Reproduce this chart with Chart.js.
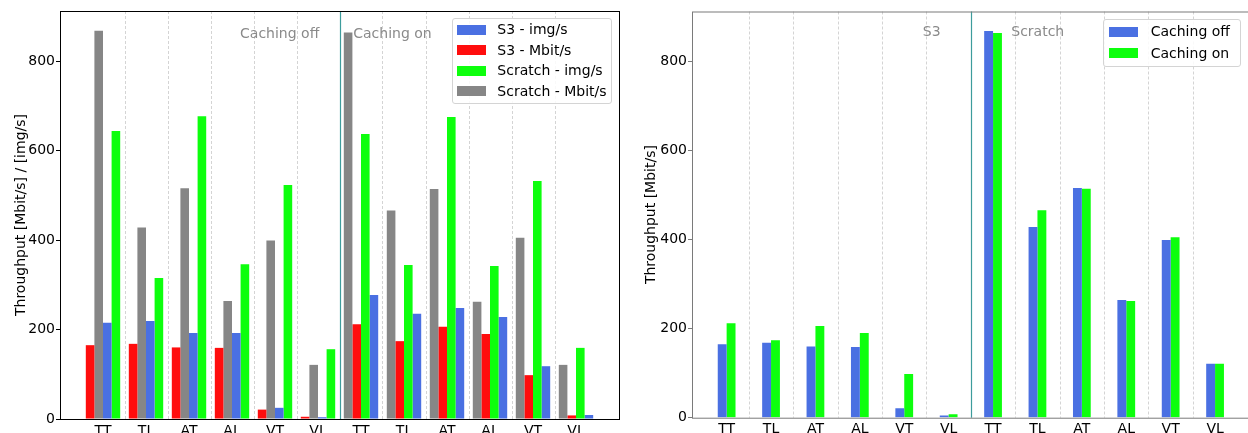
<!DOCTYPE html>
<html><head><meta charset="utf-8">
<script src="https://cdn.jsdelivr.net/npm/chart.js@4.4.1/dist/chart.umd.min.js"></script>
<style>
html,body{margin:0;padding:0;width:1248px;height:433px;overflow:hidden;background:#fff;font-family:"DejaVu Sans";}
canvas{position:absolute;top:0;}
#c1{left:0;}
#c2{left:640px;}
.legend{position:absolute;border:1px solid #d4d4d4;border-radius:3px;background:rgba(255,255,255,0.85);box-sizing:border-box;font:14px "DejaVu Sans";color:#000;}
.legend .sw{position:absolute;width:29px;height:10px;}
.legend .tx{position:absolute;line-height:17px;white-space:nowrap;}
</style></head><body>
<canvas id="c1" width="640" height="445"></canvas>
<canvas id="c2" width="620" height="445"></canvas>
<div id="leg1" class="legend"></div>
<div id="leg2" class="legend"></div>
<script>
// ---------- data ----------
const categories = ['TT', 'TL', 'AT', 'AL', 'VT', 'VL'];
const tickLabels = [...categories, ...categories];
const yTicks = [0, 200, 400, 600, 800];
const seriesNames = ['S3 - img/s', 'S3 - Mbit/s', 'Scratch - img/s', 'Scratch - Mbit/s'];
const rightSeriesNames = ['Caching off', 'Caching on'];
const regionLabelsLeft = ['Caching off', 'Caching on'];
const regionLabelsRight = ['S3', 'Scratch'];
const yTitleLeft = 'Throughput [Mbit/s] / [img/s]';
const yTitleRight = 'Throughput [Mbit/s]';

const s3ImgOff       = [215, 219, 192, 192, 25, 4];
const s3ImgOn        = [277, 235, 248, 228, 118, 9];
const s3MbitOff      = [165, 168, 160, 159, 21, 5];
const s3MbitOn       = [212, 174, 206, 190, 98, 8];
const scratchImgOff  = [644, 315, 677, 346, 523, 156];
const scratchImgOn   = [637, 344, 675, 342, 532, 159];
const scratchMbitOff = [868, 428, 516, 264, 399, 121];
const scratchMbitOn  = [864, 466, 514, 262, 405, 121];

// right chart: Mbit/s, S3 block then Scratch block
const cachingOff = [...s3MbitOff, ...scratchMbitOff];
const cachingOn  = [...s3MbitOn, ...scratchMbitOn];

// ---------- styles ----------
const C = { blue: '#4a70e2', red: '#ff0d0d', green: '#0dff0d', gray: '#868686' };
Chart.defaults.font.family = 'DejaVu Sans';
Chart.defaults.font.size = 14;
Chart.defaults.color = '#000';

function place(values, half) {
  return tickLabels.map((_, i) => ({ x: i, y: Math.floor(i / 6) === half ? values[i % 6] : null }));
}
function seq(values) { return values.map((v, i) => ({ x: i, y: v })); }

const decor = {
  id: 'decor',
  beforeDatasetsDraw(chart, args, o) {
    const { ctx, chartArea: a, scales: { x } } = chart;
    ctx.save();
    for (let i = 0; i < tickLabels.length - 1; i++) {
      const v = i + 0.5;
      const px = Math.round(x.getPixelForValue(v)) + 0.5;
      ctx.beginPath();
      if (i === 5) { ctx.setLineDash([]); ctx.strokeStyle = o.sepColor; ctx.lineWidth = 1.2; }
      else { ctx.setLineDash([3, 2]); ctx.strokeStyle = '#d4d4d4'; ctx.lineWidth = 1; }
      ctx.moveTo(px, a.top); ctx.lineTo(px, a.bottom); ctx.stroke();
    }
    ctx.restore();
  },
  afterDraw(chart, args, o) {
    const { ctx, chartArea: a, scales: { x, y } } = chart;
    ctx.save();
    ctx.font = '14px "DejaVu Sans"';
    ctx.fillStyle = '#8a8a8a';
    ctx.textBaseline = 'middle';
    o.notes.forEach(n => {
      ctx.textAlign = n.align;
      ctx.fillText(n.text, x.getPixelForValue(n.x), y.getPixelForValue(n.y));
    });
    ctx.strokeStyle = o.frameColor; ctx.lineWidth = o.frameWidth; ctx.setLineDash([]);
    ctx.strokeRect(a.left + 0.5, a.top + 0.5, a.right - a.left, a.bottom - a.top);
    ctx.restore();
  }
};

function makeOptions(p) {
  return {
    responsive: false, animation: false,
    layout: { padding: { left: 0, top: p.top, right: p.right, bottom: 0 } },
    plugins: { legend: { display: false }, tooltip: { enabled: false },
      decor: { notes: p.notes, frameColor: p.frame, frameWidth: 1, sepColor: '#3d9c9c' } },
    datasets: { bar: { categoryPercentage: p.catPct, barPercentage: 1, borderWidth: 0, skipNull: true } },
    scales: {
      x: {
        type: 'linear', min: p.xmin, max: p.xmax, offset: false,
        afterBuildTicks: s => { s.ticks = tickLabels.map((_, i) => ({ value: i })); },
        afterFit: s => { s.height = p.xh; },
        ticks: { autoSkip: false, maxRotation: 0, padding: 3.5, color: '#000',
          callback: v => tickLabels[v] !== undefined ? tickLabels[v] : '' },
        grid: { display: false, drawTicks: false, offset: false },
        border: { display: false }
      },
      y: {
        min: 0, max: 912,
        afterBuildTicks: s => { s.ticks = yTicks.map(v => ({ value: v })); },
        afterFit: s => { s.width = p.yw; },
        ticks: { padding: 1, color: '#000' },
        grid: { drawOnChartArea: false, drawTicks: true, tickLength: 4, color: p.frame },
        border: { display: false },
        title: { display: true, text: p.title, color: '#000', padding: { top: p.titlePad, bottom: 0 },
          font: { size: 14 } }
      }
    }
  };
}

new Chart(document.getElementById('c1'), {
  type: 'bar',
  data: { datasets: [
    { label: seriesNames[1], data: place(s3MbitOff, 0), backgroundColor: C.red },
    { label: seriesNames[3], data: place(scratchMbitOff, 0), backgroundColor: C.gray },
    { label: seriesNames[0], data: place(s3ImgOff, 0), backgroundColor: C.blue },
    { label: seriesNames[2], data: place(scratchImgOff, 0), backgroundColor: C.green },
    { label: seriesNames[3], data: place(scratchMbitOn, 1), backgroundColor: C.gray },
    { label: seriesNames[1], data: place(s3MbitOn, 1), backgroundColor: C.red },
    { label: seriesNames[2], data: place(scratchImgOn, 1), backgroundColor: C.green },
    { label: seriesNames[0], data: place(s3ImgOn, 1), backgroundColor: C.blue }
  ] },
  options: makeOptions({ top: 11, right: 21, xh: 26, yw: 60, catPct: 0.8, xmin: -1, xmax: 12,
    frame: '#000', title: yTitleLeft, titlePad: 13,
    notes: [ { text: regionLabelsLeft[0], x: 5.03, y: 860, align: 'right' },
             { text: regionLabelsLeft[1], x: 5.82, y: 860, align: 'left' } ] }),
  plugins: [decor]
});

new Chart(document.getElementById('c2'), {
  type: 'bar',
  data: { datasets: [
    { label: rightSeriesNames[0], data: seq(cachingOff), backgroundColor: C.blue },
    { label: rightSeriesNames[1], data: seq(cachingOn), backgroundColor: C.green }
  ] },
  options: makeOptions({ top: 11.5, right: 10.3, xh: 27.3, yw: 52, catPct: 0.4, xmin: -0.78, xmax: 11.78,
    frame: '#7a7a7a', title: yTitleRight, titlePad: 2.6,
    notes: [ { text: regionLabelsRight[0], x: 4.82, y: 866, align: 'right' },
             { text: regionLabelsRight[1], x: 6.41, y: 866, align: 'left' } ] }),
  plugins: [decor]
});

// ---------- legends (HTML overlay) ----------
function buildLegend(id, box, items, rowStart, rowStep, patchX, textX) {
  const el = document.getElementById(id);
  Object.assign(el.style, { left: box.x + 'px', top: box.y + 'px', width: box.w + 'px', height: box.h + 'px' });
  items.forEach((it, k) => {
    const cy = rowStart + k * rowStep - 1;
    const sw = document.createElement('div');
    sw.className = 'sw';
    Object.assign(sw.style, { left: (patchX - 1) + 'px', top: (cy - 5) + 'px', background: it.color });
    const tx = document.createElement('div');
    tx.className = 'tx';
    tx.textContent = it.label;
    Object.assign(tx.style, { left: (textX - 1) + 'px', top: (cy - 8.5) + 'px' });
    el.appendChild(sw); el.appendChild(tx);
  });
}
buildLegend('leg1', { x: 452, y: 18.3, w: 159.7, h: 86 },
  [ { label: seriesNames[0], color: C.blue }, { label: seriesNames[1], color: C.red },
    { label: seriesNames[2], color: C.green }, { label: seriesNames[3], color: C.gray } ],
  11.4, 20.6, 4.7, 45.3);
buildLegend('leg2', { x: 1102.7, y: 19.3, w: 138.3, h: 47.4 },
  [ { label: rightSeriesNames[0], color: C.blue }, { label: rightSeriesNames[1], color: C.green } ],
  12.4, 21.6, 6.3, 48);
</script>
</body></html>
